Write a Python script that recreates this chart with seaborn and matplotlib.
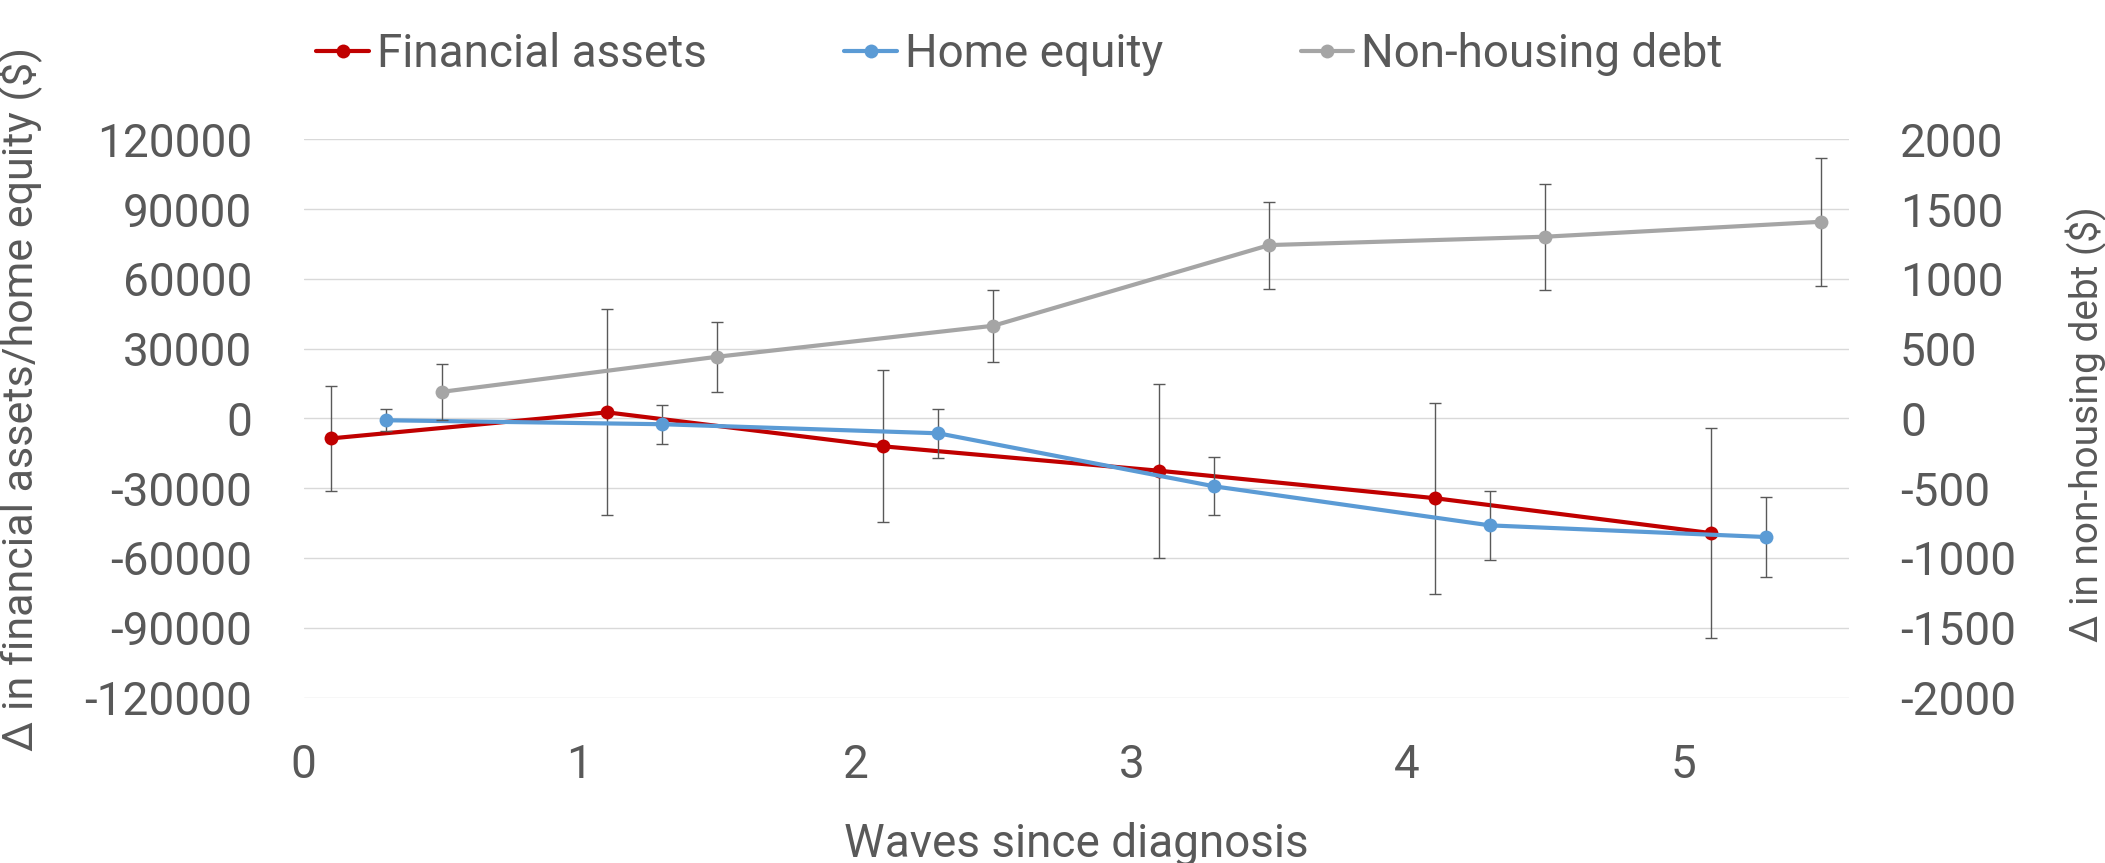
import numpy as np
import pandas as pd
import matplotlib
matplotlib.use("Agg")
import matplotlib.pyplot as plt
import seaborn as sns

# ---- data ----
fin_x = [0.1, 1.1, 2.1, 3.1, 4.1, 5.1]
fin_y = [-8600, 2600, -12000, -22500, -34300, -49300]
fin_err = [22700, 44300, 32600, 37400, 41000, 45000]

home_x = [0.3, 1.3, 2.3, 3.3, 4.3, 5.3]
home_y = [-800, -2500, -6400, -29200, -46000, -51000]
home_err = [4700, 8300, 10500, 12500, 14900, 17200]

debt_x = [0.5, 1.5, 2.5, 3.5, 4.5, 5.5]
debt_y = [190, 442, 664, 1242, 1302, 1409]
debt_err = [200, 252, 258, 312, 380, 458]

x_ticks = [0, 1, 2, 3, 4, 5]
left_ticks = [-120000, -90000, -60000, -30000, 0, 30000, 60000, 90000, 120000]
right_ticks = [-2000, -1500, -1000, -500, 0, 500, 1000, 1500, 2000]

labels = ["Financial assets", "Home equity", "Non-housing debt"]
colors = ["#C00000", "#5B9BD5", "#A5A5A5"]

# ---- style ----
sns.set_style("white")
plt.rcParams['font.family'] = ['Roboto', 'DejaVu Sans']
TXT = "#595959"
FS = 33

fig = plt.figure(figsize=(21.05, 8.63), dpi=100)
L, R, B, T = 303.6 / 2105, 1848.7 / 2105, 1 - 697.5 / 863, 1 - 139.3 / 863
ax = fig.add_axes([L, B, R - L, T - B])
ax2 = ax.twinx()

lw = 3.0
ms = 10
ekw = dict(fmt='none', ecolor=TXT, elinewidth=1.0, capsize=4.3, capthick=1.0)

df_fin = pd.DataFrame({"x": fin_x, "y": fin_y})
df_home = pd.DataFrame({"x": home_x, "y": home_y})
df_debt = pd.DataFrame({"x": debt_x, "y": debt_y})

ax.errorbar(fin_x, fin_y, yerr=fin_err, zorder=2, **ekw)
sns.lineplot(data=df_fin, x="x", y="y", ax=ax, color=colors[0], linewidth=lw,
             marker='o', markersize=ms, markeredgewidth=0, label=labels[0], zorder=3)
ax.errorbar(home_x, home_y, yerr=home_err, zorder=4, **ekw)
sns.lineplot(data=df_home, x="x", y="y", ax=ax, color=colors[1], linewidth=lw,
             marker='o', markersize=ms, markeredgewidth=0, label=labels[1], zorder=5)
ax2.errorbar(debt_x, debt_y, yerr=debt_err, zorder=2, **ekw)
sns.lineplot(data=df_debt, x="x", y="y", ax=ax2, color=colors[2], linewidth=lw,
             marker='o', markersize=ms, markeredgewidth=0, label=labels[2], zorder=3)

ax.set_xlim(0, 5.6)
ax.set_ylim(-120000, 120000)
ax2.set_ylim(-2000, 2000)
ax.set_xticks(x_ticks)
ax.set_yticks(left_ticks)
ax2.set_yticks(right_ticks)
ax.set_xticklabels([str(v) for v in x_ticks])
ax.set_yticklabels([str(v) for v in left_ticks])
ax2.set_yticklabels([str(v) for v in right_ticks], ha='left')

ax.grid(True, axis='y', color="#D9D9D9", linewidth=1.0, zorder=0)
ax.grid(False, axis='x')
ax2.grid(False)
for a in (ax, ax2):
    for s in a.spines.values():
        s.set_visible(False)
ax.tick_params(axis='both', length=0, labelsize=FS, labelcolor=TXT)
ax.tick_params(axis='y', pad=37)
ax.tick_params(axis='x', pad=33)
ax2.tick_params(axis='y', length=0, labelsize=FS, labelcolor=TXT, pad=37)

ax.set_xlabel("Waves since diagnosis", fontsize=FS, color=TXT, labelpad=25)
ax.set_ylabel("Δ in financial assets/home equity ($)", fontsize=31, color=TXT)
ax2.set_ylabel("Δ in non-housing debt ($)", fontsize=28, color=TXT, rotation=90)
W = 1848.7 - 303.6
H = 697.5 - 139.3
ax.yaxis.set_label_coords(-(303.6 - 42) / W, (697.5 - 399) / H)
ax2.yaxis.set_label_coords(1 + (2066 - 1848.7) / W, (697.5 - 424) / H)

h1, l1 = ax.get_legend_handles_labels()
h2, l2 = ax2.get_legend_handles_labels()
for a in (ax, ax2):
    if a.get_legend() is not None:
        a.get_legend().remove()
leg = fig.legend(h1 + h2, l1 + l2, loc='center', bbox_to_anchor=(0.4843, 0.9374),
                 ncol=3, frameon=False, fontsize=FS, handlelength=1.15,
                 handletextpad=0.17, columnspacing=3.0)
for t in leg.get_texts():
    t.set_color(TXT)

fig.savefig("out.png", dpi=100)
